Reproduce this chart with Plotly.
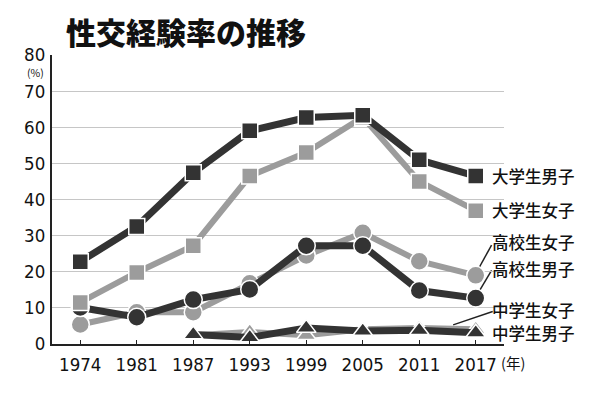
import plotly.graph_objects as go

years = ["1974", "1981", "1987", "1993", "1999", "2005", "2011", "2017"]
univ_male = [22.8, 32.5, 47.4, 59.0, 62.7, 63.3, 51.0, 46.5]
univ_female = [11.5, 19.8, 27.2, 46.5, 53.0, 62.8, 45.0, 36.9]
high_male = [10.1, 7.4, 12.3, 15.1, 27.2, 27.2, 14.8, 12.7]
high_female = [5.4, 8.8, 8.8, 16.8, 24.5, 30.8, 22.9, 19.0]
junior_male = [None, None, 2.6, 1.8, 4.4, 3.6, 3.8, 3.1]
junior_female = [None, None, 2.4, 3.3, 2.4, 4.1, 4.4, 4.1]
y_ticks = [0, 10, 20, 30, 40, 50, 60, 70, 80]
title = "性交経験率の推移"
labels = ["大学生男子", "大学生女子", "高校生女子", "高校生男子", "中学生女子", "中学生男子"]
label_y = [46.5, 37.0, 28.3, 20.7, 9.4, 3.1]

DARK = "#333333"
LIGHT = "#9c9c9c"
NUM_FONT = "Liberation Sans Narrow, DejaVu Sans Condensed, Arial Narrow, sans-serif"
JP_FONT = "Noto Sans CJK JP, sans-serif"

# page has an 8px body margin; size the figure to fit the 600x395 window
OFF = 8
W, H = 600 - OFF, 395 - OFF
L, T = 52 - OFF, 55 - OFF
R = W - (504 - OFF)
B = H - (344 - OFF)
pw, ph = W - L - R, H - T - B

def px(x):
    return (x - OFF - L) / pw

def py(y):
    return (H - B - (y - OFF)) / ph

xs = list(range(len(years)))

fig = go.Figure()

def add(vals, color, symbol, size, width):
    fig.add_trace(go.Scatter(
        x=xs, y=vals, mode="lines+markers",
        line=dict(color=color, width=width),
        marker=dict(symbol=symbol, size=size, color=color,
                    line=dict(color="white", width=1.5)),
        cliponaxis=False, connectgaps=False, showlegend=False,
        hoverinfo="skip",
    ))

add(junior_female, LIGHT, "triangle-up", 17, 6)
add(junior_male, DARK, "triangle-up", 17, 7)
add(high_female, LIGHT, "circle", 18, 6)
add(high_male, DARK, "circle", 18, 7)
add(univ_female, LIGHT, "square", 16, 6)
add(univ_male, DARK, "square", 16, 7)

# leader lines
leaders = [((7.28, 27.4), (7.02, 20.0)),
           ((7.28, 20.4), (7.02, 13.5)),
           ((7.30, 9.0), (6.60, 5.3))]
for (x0, y0), (x1, y1) in leaders:
    fig.add_shape(type="line", x0=x0, y0=y0, x1=x1, y1=y1, xref="x", yref="y",
                  line=dict(color="#222222", width=1.5), layer="below")

for lab, ly in zip(labels, label_y):
    fig.add_annotation(x=7.26, y=ly, xref="x", yref="y", text=lab,
                       showarrow=False, xanchor="left", yanchor="middle",
                       font=dict(family=JP_FONT, size=16.5, color="#111111", weight=500))

fig.add_annotation(x=px(64), y=py(31), xref="paper", yref="paper", text=title,
                   showarrow=False, xanchor="left", yanchor="middle",
                   font=dict(family=JP_FONT, size=30, color="#111111", weight=900))
fig.add_annotation(x=px(46), y=py(72.5), xref="paper", yref="paper", text="(%)",
                   showarrow=False, xanchor="right", yanchor="middle",
                   font=dict(family=JP_FONT, size=10.5, color="#111111"))
fig.add_annotation(x=px(499), y=py(363), xref="paper", yref="paper", text="(年)",
                   showarrow=False, xanchor="left", yanchor="middle",
                   font=dict(family=JP_FONT, size=14.5, color="#111111"))

fig.update_layout(
    width=W, height=H,
    margin=dict(l=L, r=R, t=T, b=B, autoexpand=False),
    paper_bgcolor="white", plot_bgcolor="white",
    xaxis=dict(range=[-0.5, 7.5], tickvals=xs, ticktext=years,
               showgrid=False, zeroline=False, showline=True,
               linecolor="#222222", linewidth=2, automargin=False,
               ticks="inside", ticklen=4, tickcolor="#222222", tickwidth=1,
               ticklabelstandoff=3,
               tickfont=dict(family=NUM_FONT, size=18.5, color="#111111"),
               fixedrange=True),
    yaxis=dict(range=[0, 80], tickvals=y_ticks, automargin=False,
               showgrid=True, gridcolor="#c6c6c6", gridwidth=1,
               zeroline=False, showline=True, linecolor="#222222", linewidth=2,
               ticks="", ticklabelstandoff=1,
               tickfont=dict(family=NUM_FONT, size=18.5, color="#111111"),
               fixedrange=True),
)

fig.write_html("out.html")
